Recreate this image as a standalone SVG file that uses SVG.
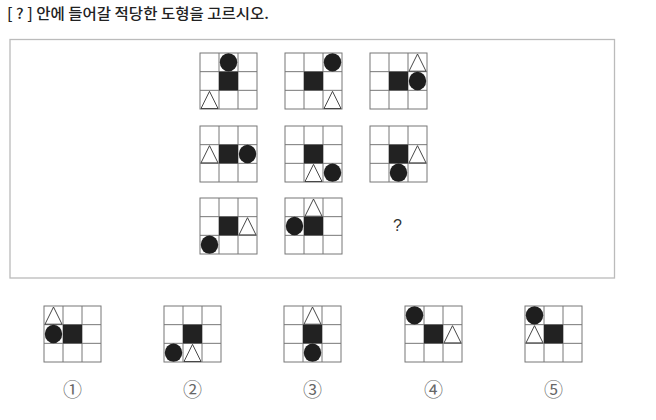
<svg xmlns="http://www.w3.org/2000/svg" xmlns:xlink="http://www.w3.org/1999/xlink" width="656" height="420" viewBox="0 0 656 420">
<style>
.title{font-family:"Noto Sans CJK KR","Noto Sans",sans-serif;font-size:14.5px;font-weight:500;fill:#222}
.q{font-family:"Liberation Sans","DejaVu Sans",sans-serif;font-size:16px;fill:#333}
.num{font-family:"Noto Sans CJK KR","DejaVu Sans",sans-serif;font-size:19px;fill:#666;text-anchor:middle}
.gl{fill:#fff;stroke:#777;stroke-width:1}
.sq{fill:#222}
.ci{fill:#1e1e1e}
.tr{fill:#fff;stroke:#333;stroke-width:0.9;stroke-linejoin:miter}
</style>
<defs>
<g id="grid">
<rect class="gl" x="0" y="0" width="57" height="56"/>
<path d="M19 0V56M38 0V56M0 18.67H57M0 37.33H57" stroke="#777" stroke-width="1" fill="none"/>
<rect class="sq" x="19" y="18.67" width="19" height="18.67"/>
</g>
<ellipse id="c" class="ci" cx="9.5" cy="9.33" rx="8.7" ry="9.2"/>
<polygon id="t" class="tr" points="1,18.2 9.5,1 18,18.2"/>
</defs>
<rect width="656" height="420" fill="#fff"/>
<text class="title" x="7" y="19" textLength="262" lengthAdjust="spacingAndGlyphs">[ ? ] 안에 들어갈 적당한 도형을 고르시오.</text>
<rect x="10" y="39.5" width="604.5" height="238.5" fill="none" stroke="#bbb" stroke-width="1.3"/>

<g id="g1" transform="translate(200,53)">
<use xlink:href="#grid"/>
<use xlink:href="#c" x="19" y="0"/>
<use xlink:href="#t" x="0" y="37.33"/>
</g>
<g id="g2" transform="translate(285,53)">
<use xlink:href="#grid"/>
<use xlink:href="#c" x="38" y="0"/>
<use xlink:href="#t" x="38" y="37.33"/>
</g>
<g id="g3" transform="translate(370,53)">
<use xlink:href="#grid"/>
<use xlink:href="#t" x="38" y="0"/>
<use xlink:href="#c" x="38" y="18.67"/>
</g>
<g id="g4" transform="translate(200,126)">
<use xlink:href="#grid"/>
<use xlink:href="#t" x="0" y="18.67"/>
<use xlink:href="#c" x="38" y="18.67"/>
</g>
<g id="g5" transform="translate(285,126)">
<use xlink:href="#grid"/>
<use xlink:href="#t" x="19" y="37.33"/>
<use xlink:href="#c" x="38" y="37.33"/>
</g>
<g id="g6" transform="translate(370,126)">
<use xlink:href="#grid"/>
<use xlink:href="#t" x="38" y="18.67"/>
<use xlink:href="#c" x="19" y="37.33"/>
</g>
<g id="g7" transform="translate(200,198)">
<use xlink:href="#grid"/>
<use xlink:href="#t" x="38" y="18.67"/>
<use xlink:href="#c" x="0" y="37.33"/>
</g>
<g id="g8" transform="translate(285,198)">
<use xlink:href="#grid"/>
<use xlink:href="#t" x="19" y="0"/>
<use xlink:href="#c" x="0" y="18.67"/>
</g>
<g id="q">
<text class="q" x="393" y="231">?</text>
</g>

<g id="a1">
<g transform="translate(44,306)">
<use xlink:href="#grid"/>
<use xlink:href="#t" x="0" y="0"/>
<use xlink:href="#c" x="0" y="18.67"/>
</g>
<text class="num" x="72.5" y="397">①</text>
</g>
<g id="a2">
<g transform="translate(164,306)">
<use xlink:href="#grid"/>
<use xlink:href="#c" x="0" y="37.33"/>
<use xlink:href="#t" x="19" y="37.33"/>
</g>
<text class="num" x="192.5" y="397">②</text>
</g>
<g id="a3">
<g transform="translate(284,306)">
<use xlink:href="#grid"/>
<use xlink:href="#t" x="19" y="0"/>
<use xlink:href="#c" x="19" y="37.33"/>
</g>
<text class="num" x="312.5" y="397">③</text>
</g>
<g id="a4">
<g transform="translate(405,306)">
<use xlink:href="#grid"/>
<use xlink:href="#c" x="0" y="0"/>
<use xlink:href="#t" x="38" y="18.67"/>
</g>
<text class="num" x="433.5" y="397">④</text>
</g>
<g id="a5">
<g transform="translate(525,306)">
<use xlink:href="#grid"/>
<use xlink:href="#c" x="0" y="0"/>
<use xlink:href="#t" x="0" y="18.67"/>
</g>
<text class="num" x="553.5" y="397">⑤</text>
</g>
</svg>
